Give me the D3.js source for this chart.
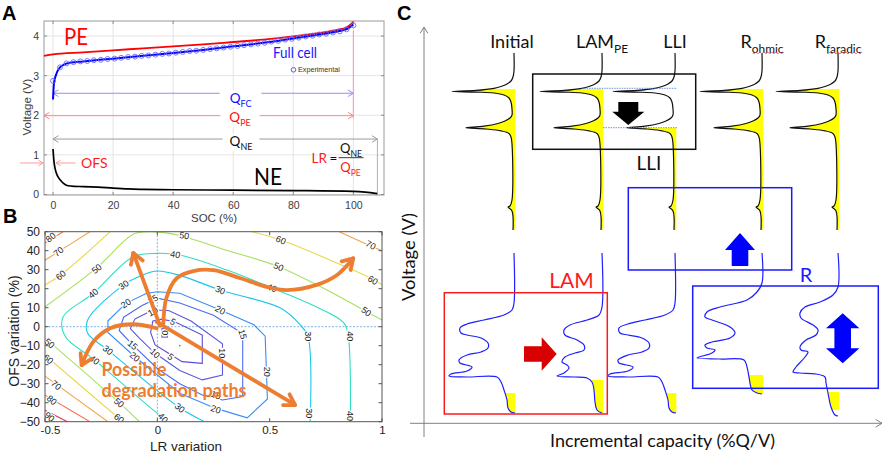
<!DOCTYPE html>
<html>
<head>
<meta charset="utf-8">
<script src="https://d3js.org/d3.v7.min.js"></script>
<style>
html,body{margin:0;padding:0;background:#fff;}
svg{display:block;}
text{font-family:"Liberation Sans",Arial,sans-serif;}
.cal{font-family:Lato,"Open Sans",sans-serif;}
</style>
</head>
<body>
<svg id="chart" width="886" height="452" viewBox="0 0 886 452"></svg>
<script>
// ======================= DATA =======================
// ---- Panel A : voltage curves vs SOC ----
const socTicks  = [0, 20, 40, 60, 80, 100];
const voltTicks = [0, 1, 2, 3, 4];
const socPE = [-3, 0, 10, 20, 30, 40, 50, 60, 70, 80, 90, 95, 98, 100];
const vPE   = [3.50, 3.54, 3.59, 3.64, 3.69, 3.74, 3.79, 3.85, 3.91, 3.99, 4.09, 4.16, 4.23, 4.36];
const socFC = [0, 0.3, 1, 2, 4, 6, 10, 20, 30, 40, 50, 60, 70, 80, 90, 95, 98, 100];
const vFC   = [2.40, 2.80, 3.02, 3.18, 3.29, 3.33, 3.36, 3.43, 3.50, 3.57, 3.65, 3.74, 3.83, 3.94, 4.05, 4.12, 4.18, 4.29];
const socExp = [0,2.3,4.5,6.8,9.1,11.4,13.6,15.9,18.2,20.5,22.7,25,27.3,29.5,31.8,34.1,36.4,38.6,40.9,43.2,45.5,47.7,50,52.3,54.5,56.8,59.1,61.4,63.6,65.9,68.2,70.5,72.7,75,77.3,79.5,81.8,84.1,86.4,88.6,90.9,93.2,95.5,97.7,100];
const vExp   = [2.87,3.21,3.31,3.34,3.36,3.37,3.39,3.40,3.42,3.43,3.45,3.47,3.48,3.50,3.51,3.53,3.55,3.56,3.58,3.60,3.62,3.63,3.65,3.67,3.69,3.71,3.73,3.75,3.77,3.79,3.81,3.83,3.86,3.88,3.91,3.93,3.96,3.99,4.01,4.04,4.06,4.09,4.12,4.17,4.27];
const socNE = [0, 0.3, 0.8, 1.5, 2.5, 3.5, 5, 7, 10, 15, 20, 25, 30, 40, 60, 80, 100, 104, 108];
const vNE   = [1.15, 0.85, 0.62, 0.47, 0.36, 0.28, 0.22, 0.205, 0.20, 0.185, 0.16, 0.14, 0.13, 0.12, 0.11, 0.10, 0.08, 0.06, 0.02];

// ---- Panel B : contour map (LR variation, OFS variation %) ----
const lrTicks  = [-0.5, 0, 0.5, 1];
const ofsTicks = [50, 40, 30, 20, 10, 0, -10, -20, -30, -40, -50];
const levels      = [0, 5, 10, 15, 20, 30, 40, 50, 60, 70, 80, 90];
const levelColors = ["#6f6fe8","#5a4bd6","#5b58e0","#4a6cf0","#3a8cf8","#19c6e8","#2edfbf","#a6e05c","#e8d84a","#f3a24a","#f27048","#e8324a"];
const contourLines = [
  {level:0,  closed:true,  pts:[[0.02,-1],[0.045,-1],[0.045,-5.5],[0.02,-5.5]]},
  {level:5,  closed:true,  pts:[[-0.02,3],[0.02,4],[0.08,2.5],[0.2,-4.4],[0.2,-19.3],[0.11,-18.4],[0.05,-14],[-0.01,-9.6],[-0.03,-3]]},
  {level:10, closed:true,  pts:[[-0.1,4],[-0.02,8.8],[0.05,8.5],[0.15,3],[0.29,-9],[0.29,-25.5],[0.2,-28],[0.1,-23],[-0.01,-14],[-0.08,-6],[-0.12,-1]]},
  {level:15, closed:true,  pts:[[-0.15,5],[-0.07,11],[0.0,15],[0.1,12.5],[0.25,6],[0.38,-3.6],[0.38,-36.8],[0.29,-38.6],[0.2,-36],[0.1,-30],[0.0,-22],[-0.11,-9.6],[-0.17,-2]]},
  {level:20, closed:true,  pts:[[-0.22,3],[-0.14,12.3],[-0.05,17.5],[0,18.4],[0.1,17.6],[0.28,8.8],[0.43,1],[0.48,-5],[0.49,-38],[0.4,-48],[0.26,-43],[0.1,-35],[-0.1,-15.8],[-0.22,-3]]},
  {level:30, closed:false, pts:[[0.21,-50],[0.1,-42.7],[-0.22,-12.3],[-0.31,-3.5],[-0.31,3.5],[-0.15,22],[-0.07,27],[0,29.3],[0.1,27],[0.28,19.3],[0.55,9.7],[0.63,1.7],[0.67,-5],[0.68,-50]]},
  {level:40, closed:false, pts:[[0.05,-50],[0.025,-48],[-0.28,-17.5],[-0.41,-5],[-0.42,5],[-0.285,17.6],[-0.107,36.8],[0,38.6],[0.1,37.7],[0.31,29.8],[0.51,20.4],[0.69,11.4],[0.83,2],[0.85,-5],[0.86,-47],[0.86,-50]]},
  {level:50, closed:false, pts:[[-0.5,10.5],[-0.27,31],[-0.1,49],[0,49.8],[0.1,48],[0.3,40.5],[0.54,31.6],[0.74,20.2],[0.93,8],[1.0,3.5]]},
  {level:50, closed:false, pts:[[-0.5,-6],[-0.17,-40],[-0.08,-50]]},
  {level:60, closed:false, pts:[[-0.5,22],[-0.43,27.2],[-0.21,50]]},
  {level:60, closed:false, pts:[[0.42,50],[0.55,45.6],[0.75,36],[0.96,25],[1.0,22]]},
  {level:60, closed:false, pts:[[-0.5,-15],[-0.17,-48.2],[-0.15,-50]]},
  {level:70, closed:false, pts:[[-0.5,35],[-0.44,39.5],[-0.3,50]]},
  {level:70, closed:false, pts:[[0.81,50],[0.94,43],[1.0,40]]},
  {level:70, closed:false, pts:[[-0.5,-26],[-0.22,-50]]},
  {level:80, closed:false, pts:[[-0.5,44],[-0.42,50]]},
  {level:80, closed:false, pts:[[-0.5,-36],[-0.3,-50]]},
  {level:90, closed:false, pts:[[-0.5,-44],[-0.4,-50]]}
];
// [level, LR, OFS, angle]
const contourLabels = [
  [80,-0.475,47,-40],[70,-0.44,39.5,-40],[60,-0.43,27.2,-40],[50,-0.27,30.5,-38],[40,-0.285,17.6,-40],
  [30,-0.15,22,-35],[20,-0.14,12.3,-35],[15,-0.02,14.5,-30],[10,-0.02,8,-30],[5,0.07,2.6,30],
  [50,0.12,48,8],[40,0.08,38,10],[60,0.55,45.6,22],[50,0.54,31.6,25],[40,0.51,20.4,22],
  [30,0.28,19.3,22],[20,0.28,8.8,30],[70,0.95,43,30],[60,0.96,24.5,32],[50,0.93,8,38],
  [15,0.38,-4,75],[10,0.29,-14,90],[20,0.49,-23.7,90],[30,0.67,-5,90],[30,0.675,-45.5,90],
  [40,0.86,-5,90],[40,0.86,-47,90],[15,0.26,-36,20],[20,0.26,-43.5,20],[30,0.1,-42.7,40],
  [40,0.025,-48,45],[50,-0.48,-8.8,40],[60,-0.485,-17,40],[70,-0.45,-30.7,40],[80,-0.47,-38.6,40],
  [90,-0.48,-47.4,40],[40,-0.28,-17.5,40],[30,-0.22,-12.3,40],[50,-0.17,-40,40],[60,-0.17,-48.2,40],
  [20,-0.1,-15.8,40],[15,-0.11,-9.6,40],[10,-0.01,-14,45],[5,0.06,-15.8,40],[0,0.035,-3.2,90]
];
// degradation path arrows [LR, OFS]
const pathUp        = [[0.012,0.5],[-0.107,38.8]];
const pathDownRight = [[-0.003,2.6],[0.613,-41.2]];
const pathLeft      = [[-0.003,-0.8],[-0.107,1.3],[-0.21,-0.8],[-0.285,-7.9],[-0.337,-20.2]];
const pathRight     = [[0.027,1.8],[0.04,15],[0.086,25.5],[0.16,29.3],[0.25,29.8],[0.37,25.5],[0.487,21],[0.576,19.3],[0.709,22],[0.8,27.2],[0.872,36]];

// ---- Panel C : schematic incremental capacity curves ----
// each point: [IC offset from column baseline (negative = peak), voltage level]
const colNames = ["Initial", "LAM", "LLI", "R", "R"];
const colSubs  = ["", "PE", "", "ohmic", "faradic"];
const colIC    = [90, 178, 251, 338, 414];
const blackInitial = [[0,384],[0,366],[-1,360],[-3,356],[-7,353],[-13,350.5],[-20,348.7],[-38,346.6],[-62,345.6],[-38,344.9],[-20,344],[-10,342],[-5,339],[-3,335],[-2,328],[-2,322],[-4,319],[-9,316],[-16,313.5],[-30,310.8],[-48,309.3],[-28,308],[-13,306.2],[-5,303.5],[-3,300],[-2,293],[-2,237],[-4,231],[-6,230],[-2,226],[-1,207]];
const blackCurves  = [blackInitial, blackInitial, blackInitial, blackInitial, blackInitial];
const blackYellow  = [[207,348],[207,348],[207,309],[207,348],[207,348]];
const blueInitial = [[0,184],[0,134],[-2,127],[-10,122],[-30,117],[-47,113],[-54,109],[-53,104],[-47,102],[-33,99],[-26,94],[-26,89],[-33,85],[-47,82],[-55,77],[-54,74],[-42,70],[-47,66],[-63,63],[-65,61],[-47,60],[-17,60],[-13,55],[-10,47],[-7,37],[-6,29],[-3,25],[1,24]];
const blueLAM = [[0,184],[0,130],[-3,122],[-15,117],[-32,112],[-38,107],[-37,102],[-25,97],[-18,92],[-18,87],[-27,84],[-37,80],[-40,75],[-35,72],[-33,69],[-38,64],[-45,61],[-28,60],[-15,59],[-10,55],[-8,47],[-7,35],[-5,27],[0,24]];
const blueLLI = [[0,184],[0,134],[-2,127],[-10,122],[-30,117],[-47,113],[-56,109],[-55,104],[-47,102],[-33,99],[-26,94],[-26,89],[-33,85],[-47,82],[-57,77],[-56,74],[-42,70],[-47,66],[-65,63],[-67,61],[-47,60],[-17,60],[-13,55],[-10,47],[-7,37],[-6,29],[-3,25],[1,24]];
const blueOhm = [[0,184],[0,154],[-5,145],[-15,137],[-42,130],[-55,125],[-57,120],[-50,117],[-32,110],[-27,104],[-32,99],[-50,95],[-57,92],[-55,89],[-47,87],[-50,84],[-63,80],[-65,79],[-42,78],[-18,77],[-15,70],[-13,60],[-10,47],[-5,44],[0,43]];
const blueFar = [[0,184],[0,150],[-5,142],[-18,135],[-33,130],[-38,124],[-37,119],[-25,112],[-20,107],[-22,102],[-32,97],[-38,90],[-37,87],[-30,85],[-33,80],[-42,70],[-45,65],[-38,64],[-22,63],[-13,60],[-12,54],[-10,44],[-7,30],[-3,22],[0,21]];
const blueCurves = [blueInitial, blueLAM, blueLLI, blueOhm, blueFar];
const blueYellow = [[24,44],[24,57],[24,44],[43,62],[27,45]];

// ======================= DRAWING =======================
const svg = d3.select("#chart");
svg.append("rect").attr("width",886).attr("height",452).attr("fill","#fff");
const defs = svg.append("defs");

function chevron(g, tip, ang, size, color, sw){
  const a1 = ang + Math.PI - 0.55, a2 = ang + Math.PI + 0.55;
  g.append("path")
   .attr("d",`M${tip[0]+size*Math.cos(a1)},${tip[1]+size*Math.sin(a1)}L${tip[0]},${tip[1]}L${tip[0]+size*Math.cos(a2)},${tip[1]+size*Math.sin(a2)}`)
   .attr("fill","none").attr("stroke",color).attr("stroke-width",sw)
   .attr("stroke-linejoin","round").attr("stroke-linecap","round");
}
function subText(g, x, y, main, sub, size, color, anchor, cls){
  const t = g.append("text").attr("x",x).attr("y",y).attr("font-size",size)
    .attr("fill",color).attr("text-anchor",anchor||"start").attr("class",cls||"cal");
  t.append("tspan").text(main);
  if(sub) t.append("tspan").attr("dy",size*0.3).attr("font-size",size*0.66).text(sub);
  return t;
}
function backRect(g, t, pad){
  const b = t.node().getBBox();
  g.insert("rect",()=>t.node()).attr("x",b.x-pad).attr("y",b.y+1).attr("width",b.width+2*pad)
    .attr("height",b.height-2).attr("fill","#fff");
}

/* ---------------- Panel A ---------------- */
const A_L=44, A_R=384, A_T=21, A_B=195;
const xA = d3.scaleLinear().domain([-3,110.2]).range([A_L,A_R]);
const yA = d3.scaleLinear().domain([0,4.38]).range([194.5,A_T]);
const gA = svg.append("g");
gA.append("g").selectAll("line").data(socTicks).join("line")
  .attr("x1",d=>xA(d)).attr("x2",d=>xA(d)).attr("y1",A_T).attr("y2",A_B)
  .attr("stroke","#e4e4e4");
gA.append("g").selectAll("line").data(voltTicks).join("line")
  .attr("x1",A_L).attr("x2",A_R).attr("y1",d=>yA(d)).attr("y2",d=>yA(d))
  .attr("stroke","#e4e4e4");
gA.append("rect").attr("x",A_L).attr("y",A_T).attr("width",A_R-A_L).attr("height",A_B-A_T)
  .attr("fill","none").attr("stroke","#9a9a9a");
const tkA = gA.append("g").attr("stroke","#8a8a8a");
socTicks.forEach(s=>{ tkA.append("line").attr("x1",xA(s)).attr("x2",xA(s)).attr("y1",A_B).attr("y2",A_B-3);
                      tkA.append("line").attr("x1",xA(s)).attr("x2",xA(s)).attr("y1",A_T).attr("y2",A_T+3); });
voltTicks.forEach(v=>{ tkA.append("line").attr("x1",A_L).attr("x2",A_L+3).attr("y1",yA(v)).attr("y2",yA(v));
                       tkA.append("line").attr("x1",A_R).attr("x2",A_R-3).attr("y1",yA(v)).attr("y2",yA(v)); });
const axAx = gA.append("g").attr("transform",`translate(0,${A_B})`)
  .call(d3.axisBottom(xA).tickValues(socTicks).tickFormat(d3.format("d")).tickSize(0).tickPadding(7));
axAx.select(".domain").remove();
axAx.attr("font-size",10.5).attr("font-family","Liberation Sans, Arial").selectAll("text").attr("fill","#3c3c3c");
const axAy = gA.append("g").attr("transform",`translate(${A_L},0)`)
  .call(d3.axisLeft(yA).tickValues(voltTicks).tickFormat(d3.format("d")).tickSize(0).tickPadding(5));
axAy.select(".domain").remove();
axAy.attr("font-size",10.5).attr("font-family","Liberation Sans, Arial").selectAll("text").attr("fill","#3c3c3c");
gA.append("text").attr("transform","translate(31,107) rotate(-90)").attr("text-anchor","middle")
  .attr("font-size",11.5).attr("fill","#3c3c3c").text("Voltage (V)");
gA.append("text").attr("x",214).attr("y",222).attr("text-anchor","middle")
  .attr("font-size",11.5).attr("fill","#3c3c3c").text("SOC (%)");

// capacity arrows
const gQ = gA.append("g");
function qArrow(s1, s2, v, color, leftHead){
  const y = yA(v);
  gQ.append("line").attr("x1",xA(s1)).attr("x2",xA(s2)).attr("y1",y).attr("y2",y).attr("stroke",color).attr("stroke-width",1);
  chevron(gQ,[xA(s2),y],0,6,color,1);
  if(leftHead) chevron(gQ,[xA(s1),y],Math.PI,6,color,1);
}
qArrow(0, 100, 2.556, "#8f8fff", true);
qArrow(-3, 100, 1.99, "#ff8a8a", true);
qArrow(0, 108, 1.40, "#9a9a9a", true);
gQ.append("line").attr("x1",xA(100)).attr("x2",xA(100)).attr("y1",yA(4.14)).attr("y2",yA(1.92)).attr("stroke","#ff9a9a");
gQ.append("line").attr("x1",xA(108)).attr("x2",xA(108)).attr("y1",yA(1.40)).attr("y2",yA(0.03)).attr("stroke","#b0b0b0");
const qfc = subText(gQ, 240.5, 102.5, "Q", "FC", 13.5, "#1010ff", "middle"); backRect(gQ, qfc, 10);
const qpe = subText(gQ, 240, 122, "Q", "PE", 13.5, "#ff1010", "middle"); backRect(gQ, qpe, 9);
const qne = subText(gQ, 241, 146, "Q", "NE", 13.5, "#111", "middle"); backRect(gQ, qne, 7);

// curves
const lineA = d3.line().x(d=>xA(d[0])).y(d=>yA(d[1])).curve(d3.curveMonotoneX);
gA.append("path").datum(socNE.map((s,i)=>[s,vNE[i]])).attr("d",lineA)
  .attr("fill","none").attr("stroke","#000").attr("stroke-width",1.7);
gA.append("path").datum(socPE.map((s,i)=>[s,vPE[i]])).attr("d",lineA)
  .attr("fill","none").attr("stroke","#ff0000").attr("stroke-width",1.8);
gA.append("path").datum(socFC.map((s,i)=>[s,vFC[i]])).attr("d",lineA)
  .attr("fill","none").attr("stroke","#0000ff").attr("stroke-width",2);
gA.append("g").selectAll("circle").data(socExp.map((s,i)=>[s,vExp[i]])).join("circle")
  .attr("cx",d=>xA(d[0])).attr("cy",d=>yA(d[1])).attr("r",2.5)
  .attr("fill","none").attr("stroke","#6a6aff").attr("stroke-width",0.9);

// OFS arrows
const yOFS = yA(0.795);
gA.append("line").attr("x1",20).attr("x2",A_L-1).attr("y1",yOFS).attr("y2",yOFS).attr("stroke","#ff9a9a");
chevron(gA,[A_L-1,yOFS],0,5,"#ff9a9a",1);
gA.append("line").attr("x1",xA(0)+3).attr("x2",xA(7.5)).attr("y1",yOFS).attr("y2",yOFS).attr("stroke","#ff9a9a");
chevron(gA,[xA(0)+3,yOFS],Math.PI,5,"#ff9a9a",1);
gA.append("text").attr("class","cal").attr("x",81).attr("y",168).attr("font-size",14).attr("fill","#ff1a1a").text("OFS");

// texts
gA.append("text").attr("class","cal").attr("x",64).attr("y",45).attr("font-size",24).attr("fill","#ff0000")
  .attr("textLength",24).attr("lengthAdjust","spacingAndGlyphs").text("PE");
gA.append("text").attr("class","cal").attr("x",254).attr("y",185).attr("font-size",24).attr("fill","#000")
  .attr("textLength",28).attr("lengthAdjust","spacingAndGlyphs").text("NE");
gA.append("text").attr("class","cal").attr("x",273).attr("y",58).attr("font-size",14.5).attr("fill","#1a1aff")
  .attr("textLength",44).attr("lengthAdjust","spacingAndGlyphs").text("Full cell");
gA.append("circle").attr("cx",293.5).attr("cy",69.8).attr("r",2.3).attr("fill","none").attr("stroke","#5a5aff").attr("stroke-width",1);
gA.append("text").attr("x",298).attr("y",72.3).attr("font-size",7.2).attr("fill","#333").text("Experimental");
gA.append("text").attr("class","cal").attr("x",311.5).attr("y",162.5).attr("font-size",13.5).attr("fill","#ff1a1a").text("LR");
gA.append("text").attr("class","cal").attr("x",329.5).attr("y",162.5).attr("font-size",13.5).attr("fill","#111").text("=");
subText(gA, 351, 153, "Q", "NE", 13, "#111", "middle");
gA.append("line").attr("x1",338.5).attr("x2",363.5).attr("y1",157.7).attr("y2",157.7).attr("stroke","#222").attr("stroke-width",0.9);
subText(gA, 350.5, 172, "Q", "PE", 13, "#ff1a1a", "middle");
svg.append("text").attr("x",2).attr("y",19.5).attr("font-size",20).attr("font-weight","bold").text("A");

/* ---------------- Panel B ---------------- */
const B_L=45, B_R=382, B_T=231.7, B_B=421.7;
const xB = d3.scaleLinear().domain([-0.5,1]).range([B_L,B_R]);
const yB = d3.scaleLinear().domain([-50,50]).range([B_B,B_T]);
const gB = svg.append("g");
defs.append("clipPath").attr("id","clipB").append("rect")
  .attr("x",B_L).attr("y",B_T).attr("width",B_R-B_L).attr("height",B_B-B_T);
const gBc = gB.append("g").attr("clip-path","url(#clipB)");
gBc.append("line").attr("x1",xB(0)).attr("x2",xB(0)).attr("y1",B_T).attr("y2",B_B)
  .attr("stroke","#7fb2e6").attr("stroke-dasharray","2,1.5");
gBc.append("line").attr("x1",B_L).attr("x2",B_R).attr("y1",yB(0)).attr("y2",yB(0))
  .attr("stroke","#7fb2e6").attr("stroke-dasharray","2,1.5");
const colorOf = d3.scaleOrdinal().domain(levels).range(levelColors);
const lineOpen = d3.line().x(d=>xB(d[0])).y(d=>yB(d[1])).curve(d3.curveCatmullRom.alpha(0.5));
const lineClosed = d3.line().x(d=>xB(d[0])).y(d=>yB(d[1])).curve(d3.curveLinearClosed);
gBc.selectAll("path.ct").data(contourLines).join("path").attr("class","ct")
  .attr("d",d=>d.closed ? lineClosed(d.pts) : lineOpen(d.pts))
  .attr("fill","none").attr("stroke",d=>colorOf(d.level)).attr("stroke-width",1.1);
gBc.append("circle").attr("cx",xB(0.1)).attr("cy",yB(-10)).attr("r",0.8).attr("fill","#5a4bd6");
gBc.selectAll("text.cl").data(contourLabels).join("text").attr("class","cl")
  .attr("transform",d=>`translate(${xB(d[1])},${yB(d[2])}) rotate(${d[3]})`)
  .attr("text-anchor","middle").attr("dy","0.35em").attr("font-size",9)
  .attr("fill","#1a1a1a").attr("stroke","#fff").attr("stroke-width",2.5).attr("paint-order","stroke")
  .text(d=>d[0]);
gB.append("rect").attr("x",B_L).attr("y",B_T).attr("width",B_R-B_L).attr("height",B_B-B_T)
  .attr("fill","none").attr("stroke","#555");
const tkB = gB.append("g").attr("stroke","#555");
lrTicks.forEach(s=>{ tkB.append("line").attr("x1",xB(s)).attr("x2",xB(s)).attr("y1",B_B).attr("y2",B_B-3.5);
                     tkB.append("line").attr("x1",xB(s)).attr("x2",xB(s)).attr("y1",B_T).attr("y2",B_T+3.5); });
ofsTicks.forEach(v=>{ tkB.append("line").attr("x1",B_L).attr("x2",B_L+3.5).attr("y1",yB(v)).attr("y2",yB(v));
                      tkB.append("line").attr("x1",B_R).attr("x2",B_R-3.5).attr("y1",yB(v)).attr("y2",yB(v)); });
const axBx = gB.append("g").attr("transform",`translate(0,${B_B})`)
  .call(d3.axisBottom(xB).tickValues(lrTicks).tickSize(0).tickPadding(4).tickFormat(d=>d===0?"0":d===1?"1":d));
axBx.select(".domain").remove();
axBx.attr("font-size",11.5).attr("font-family","Liberation Sans, Arial").selectAll("text").attr("fill","#222")
  .attr("dx",d=>d===-0.5?5:0);
const axBy = gB.append("g").attr("transform",`translate(${B_L},0)`)
  .call(d3.axisLeft(yB).tickValues(ofsTicks).tickSize(0).tickPadding(5));
axBy.select(".domain").remove();
axBy.attr("font-size",12).attr("font-family","Liberation Sans, Arial").selectAll("text").attr("fill","#222");
gB.append("text").attr("transform","translate(18.5,331) rotate(-90)").attr("text-anchor","middle")
  .attr("font-size",14).attr("fill","#222").text("OFS variation (%)");
gB.append("text").attr("x",186).attr("y",450.5).attr("text-anchor","middle")
  .attr("font-size",13.5).attr("fill","#222").text("LR variation");
// degradation path arrows
const ORANGE = "#ed7d31";
const gArr = gB.append("g");
function orangeArrow(pts, curved){
  const gen = d3.line().x(d=>xB(d[0])).y(d=>yB(d[1])).curve(curved ? d3.curveCatmullRom.alpha(0.5) : d3.curveLinear);
  gArr.append("path").attr("d",gen(pts)).attr("fill","none").attr("stroke",ORANGE)
    .attr("stroke-width",3.8).attr("stroke-linecap","round");
  const n = pts.length, p1 = [xB(pts[n-2][0]),yB(pts[n-2][1])], p2 = [xB(pts[n-1][0]),yB(pts[n-1][1])];
  chevron(gArr, p2, Math.atan2(p2[1]-p1[1], p2[0]-p1[0]), 12, ORANGE, 3.8);
}
orangeArrow(pathUp,false);
orangeArrow(pathDownRight,false);
orangeArrow(pathLeft,true);
orangeArrow(pathRight,true);
gB.append("text").attr("class","cal").attr("x",101.5).attr("y",375.5).attr("font-size",19).attr("font-weight","bold")
  .attr("fill",ORANGE).attr("textLength",65).attr("lengthAdjust","spacingAndGlyphs").text("Possible");
gB.append("text").attr("class","cal").attr("x",101.5).attr("y",396.5).attr("font-size",19).attr("font-weight","bold")
  .attr("fill",ORANGE).attr("textLength",145).attr("lengthAdjust","spacingAndGlyphs").text("degradation paths");
svg.append("text").attr("x",3).attr("y",223).attr("font-size",20).attr("font-weight","bold").text("B");

/* ---------------- Panel C ---------------- */
const xC = d3.scaleLinear().domain([0,459]).range([424,883]);
const yC = d3.scaleLinear().domain([0,412]).range([437,25]);
const gC = svg.append("g");
const AX = "#808080";
gC.append("line").attr("x1",xC(0)).attr("x2",xC(0)).attr("y1",yC(0)).attr("y2",yC(410)).attr("stroke",AX);
chevron(gC,[xC(0),yC(410)],-Math.PI/2,7,AX,1);
gC.append("line").attr("x1",xC(-14)).attr("x2",xC(458)).attr("y1",yC(13.7)).attr("y2",yC(13.7)).attr("stroke",AX);
chevron(gC,[xC(458),yC(13.7)],0,7,AX,1);
gC.append("text").attr("class","cal").attr("transform",`translate(415,257) rotate(-90)`).attr("text-anchor","middle")
  .attr("font-size",17).attr("fill","#111").attr("textLength",88).attr("lengthAdjust","spacingAndGlyphs").text("Voltage (V)");
gC.append("text").attr("class","cal").attr("x",662.5).attr("y",446.5).attr("text-anchor","middle")
  .attr("font-size",17).attr("fill","#111").attr("textLength",225).attr("lengthAdjust","spacingAndGlyphs").text("Incremental capacity (%Q/V)");

const curveC = d3.curveCatmullRom.alpha(0.5);
function drawIC(curve, base, yel, color, idx, tag){
  const cid = `clip${tag}${idx}`;
  defs.append("clipPath").attr("id",cid).append("rect")
    .attr("x",xC(base-80)).attr("width",120).attr("y",yC(yel[1])).attr("height",yC(yel[0])-yC(yel[1]));
  const area = d3.area().curve(curveC).y(d=>yC(d[1])).x0(xC(base+1.3)).x1(d=>xC(base+d[0]));
  gC.append("path").attr("d",area(curve)).attr("fill","#ffff00").attr("clip-path",`url(#${cid})`);
  const ln = d3.line().curve(curveC).x(d=>xC(base+d[0])).y(d=>yC(d[1]));
  gC.append("path").attr("d",ln(curve)).attr("fill","none").attr("stroke",color).attr("stroke-width",1.2);
}
blackCurves.forEach((c,i)=>drawIC(c, colIC[i], blackYellow[i], "#111", i, "k"));
blueCurves.forEach((c,i)=>drawIC(c, colIC[i], blueYellow[i], "#1f1fff", i, "b"));

// column labels
colNames.forEach((n,i)=>{
  const t = subText(gC, xC(colIC[i] - (i===0?2:0)), 48, n, colSubs[i], 18, "#111", "middle");
  if(i>=3){
    const node = t.node(), b = node.getBBox();
    const rw = node.getSubStringLength(0,1);
    const x0 = b.x + rw + 1, x1 = b.x + b.width;
    let d = `M${x0},53`;
    for(let x=x0; x<x1; x+=2) d += `L${x+1},${(Math.round((x-x0)/2)%2)?52:54}`;
    gC.append("path").attr("d",d).attr("fill","none").attr("stroke","#ff4040").attr("stroke-width",0.7);
  }
});

// LLI box
const poly = (pts)=>pts.map(p=>[xC(p[0]),yC(p[1])].join(",")).join(" ");
gC.append("rect").attr("x",xC(108.7)).attr("y",yC(363)).attr("width",xC(271.7)-xC(108.7)).attr("height",yC(287.7)-yC(363))
  .attr("fill","none").attr("stroke","#111").attr("stroke-width",1.5);
gC.append("line").attr("x1",xC(157.7)).attr("x2",xC(253)).attr("y1",yC(348.7)).attr("y2",yC(348.7))
  .attr("stroke","#5a8ad8").attr("stroke-width",0.9).attr("stroke-dasharray","1.5,1");
gC.append("line").attr("x1",xC(179)).attr("x2",xC(253)).attr("y1",yC(309.3)).attr("y2",yC(309.3))
  .attr("stroke","#5a8ad8").attr("stroke-width",0.9).attr("stroke-dasharray","1.5,1");
const cD = 204.3;
gC.append("polygon").attr("points",poly([[cD-10,335],[cD+10,335],[cD+10,325.3],[cD+16,325.3],[cD,312],[cD-16,325.3],[cD-10,325.3]])).attr("fill","#000");
gC.append("text").attr("class","cal").attr("x",xC(225)).attr("y",yC(267)).attr("text-anchor","middle")
  .attr("font-size",19).attr("fill","#111").text("LLI");
// blue box (top)
gC.append("rect").attr("x",xC(204.3)).attr("y",yC(249.3)).attr("width",xC(367.7)-xC(204.3)).attr("height",yC(167)-yC(249.3))
  .attr("fill","none").attr("stroke","#1a1aff").attr("stroke-width",1.5);
const cU = 316;
gC.append("polygon").attr("points",poly([[cU-8.3,171],[cU+8.3,171],[cU+8.3,187],[cU+15,187],[cU,204],[cU-15,187],[cU-8.3,187]])).attr("fill","#0000ff");
// LAM box
gC.append("rect").attr("x",xC(20.3)).attr("y",yC(144.3)).attr("width",xC(183.3)-xC(20.3)).attr("height",yC(23)-yC(144.3))
  .attr("fill","none").attr("stroke","#ff1a1a").attr("stroke-width",1.5);
gC.append("text").attr("class","cal").attr("x",xC(147.5)).attr("y",yC(149)).attr("text-anchor","middle")
  .attr("font-size",21).attr("fill","#ff1a1a").text("LAM");
gC.append("polygon").attr("points",poly([[100,90.8],[117.7,90.8],[117.7,99.7],[132.7,83],[117.7,66.3],[117.7,75.2],[100,75.2]])).attr("fill","#d80000");
// R box
gC.append("rect").attr("x",xC(268.7)).attr("y",yC(151)).attr("width",xC(454.3)-xC(268.7)).attr("height",yC(48.7)-yC(151))
  .attr("fill","none").attr("stroke","#1a1aff").attr("stroke-width",1.5);
gC.append("text").attr("class","cal").attr("x",xC(382)).attr("y",yC(155.3)).attr("text-anchor","middle")
  .attr("font-size",20).attr("fill","#1a1aff").text("R");
const cR = 418.7;
gC.append("polygon").attr("points",poly([[cR,123.7],[cR+16.7,108.7],[cR+8.3,108.7],[cR+8.3,88.7],[cR+16.7,88.7],[cR,73.7],[cR-16.7,88.7],[cR-8.3,88.7],[cR-8.3,108.7],[cR-16.7,108.7]])).attr("fill","#0000ff");
svg.append("text").attr("x",397).attr("y",19.5).attr("font-size",20).attr("font-weight","bold").text("C");
</script>
</body>
</html>
